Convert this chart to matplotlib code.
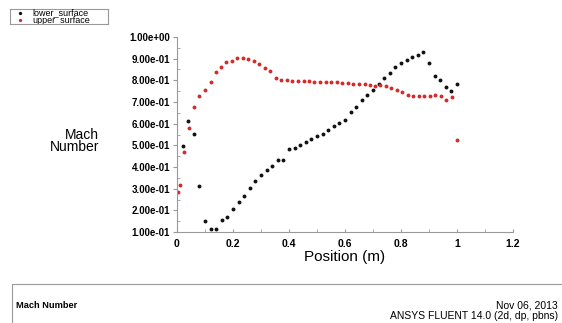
import matplotlib
matplotlib.use("Agg")
from matplotlib import pyplot as plt
from matplotlib.patches import Rectangle
from matplotlib.ticker import MultipleLocator, FixedLocator

plt.rcParams['font.family'] = ['Liberation Sans', 'DejaVu Sans']

# Lower surface Mach number along the chord
lower_x = [0.02, 0.04, 0.06, 0.08, 0.10, 0.12, 0.14, 0.16, 0.18, 0.20,
           0.22, 0.24, 0.26, 0.28, 0.30, 0.32, 0.34, 0.36, 0.38, 0.40,
           0.42, 0.44, 0.46, 0.48, 0.50, 0.52, 0.54, 0.56, 0.58, 0.60,
           0.62, 0.64, 0.66, 0.68, 0.70, 0.72, 0.74, 0.76, 0.78, 0.80,
           0.82, 0.84, 0.86, 0.88, 0.90, 0.92, 0.94, 0.96, 0.98, 1.00]
lower_y = [0.495, 0.611, 0.552, 0.311, 0.152, 0.115, 0.115, 0.154, 0.168, 0.206,
           0.240, 0.265, 0.303, 0.334, 0.365, 0.385, 0.406, 0.431, 0.434, 0.485,
           0.489, 0.502, 0.515, 0.531, 0.542, 0.552, 0.569, 0.587, 0.603, 0.618,
           0.654, 0.676, 0.707, 0.731, 0.757, 0.785, 0.809, 0.832, 0.862, 0.880,
           0.892, 0.908, 0.918, 0.929, 0.880, 0.818, 0.803, 0.768, 0.752, 0.785]

# Upper surface
upper_x = [0.005, 0.01, 0.024, 0.042, 0.06, 0.08, 0.10, 0.12, 0.138, 0.157,
           0.176, 0.196, 0.215, 0.235, 0.254, 0.274, 0.293, 0.313, 0.332, 0.352,
           0.372, 0.392, 0.412, 0.432, 0.452, 0.471, 0.491, 0.511, 0.531, 0.551,
           0.571, 0.59, 0.61, 0.63, 0.65, 0.67, 0.688, 0.706, 0.725, 0.745,
           0.765, 0.785, 0.805, 0.824, 0.844, 0.864, 0.883, 0.903, 0.923, 0.943,
           0.961, 0.981, 1.0]
upper_y = [0.283, 0.318, 0.468, 0.580, 0.675, 0.729, 0.754, 0.792, 0.837, 0.862,
           0.885, 0.891, 0.902, 0.905, 0.900, 0.888, 0.874, 0.857, 0.842, 0.811,
           0.803, 0.800, 0.798, 0.798, 0.797, 0.795, 0.792, 0.792, 0.792, 0.792,
           0.791, 0.788, 0.788, 0.785, 0.785, 0.782, 0.780, 0.775, 0.777, 0.772,
           0.765, 0.757, 0.746, 0.734, 0.726, 0.726, 0.726, 0.729, 0.731, 0.726,
           0.711, 0.722, 0.526]

y_ticks = [0.1, 0.2, 0.3, 0.4, 0.5, 0.6, 0.7, 0.8, 0.9, 1.0]
y_labels = ['1.00e-01', '2.00e-01', '3.00e-01', '4.00e-01', '5.00e-01',
            '6.00e-01', '7.00e-01', '8.00e-01', '9.00e-01', '1.00e+00']
x_ticks = [0, 0.2, 0.4, 0.6, 0.8, 1, 1.2]
x_labels = ['0', '0.2', '0.4', '0.6', '0.8', '1', '1.2']

black = '#111111'
red = '#d42a2a'
grey = '#999999'

fig = plt.figure(figsize=(5.62, 3.23), dpi=100)
ax = fig.add_axes([177 / 562, 91 / 323, 336 / 562, 195 / 323])

ax.plot(lower_x, lower_y, 'o', color=black, markersize=2.8, mew=0, linestyle='none')
ax.plot(upper_x, upper_y, 'o', color=red, markersize=2.8, mew=0, linestyle='none')

ax.set_xlim(0, 1.2)
ax.set_ylim(0.1, 1.0)
for s in ['top', 'right']:
    ax.spines[s].set_visible(False)
for s in ['left', 'bottom']:
    ax.spines[s].set_color(grey)
    ax.spines[s].set_linewidth(0.8)

ax.yaxis.set_major_locator(FixedLocator(y_ticks))
ax.set_yticklabels(y_labels)
ax.yaxis.set_minor_locator(MultipleLocator(0.05))
ax.xaxis.set_major_locator(FixedLocator(x_ticks))
ax.set_xticklabels(x_labels)
ax.xaxis.set_minor_locator(MultipleLocator(0.1))

ax.tick_params(axis='y', which='major', direction='out', length=3, color=grey,
               labelsize=7, pad=2)
ax.tick_params(axis='y', which='minor', direction='in', length=2, color=grey)
ax.tick_params(axis='x', which='both', direction='in', length=2, color=grey,
               labelsize=7.5, pad=5)
for lab in ax.get_xticklabels() + ax.get_yticklabels():
    lab.set_fontweight('bold')

ax.set_xlabel('Position (m)', fontsize=11, labelpad=1)
fig.text(99 / 562, 1 - 141 / 323, 'Mach\nNumber', fontsize=10, ha='right',
         va='center', multialignment='right', linespacing=0.85)

# Legend box with clipped names
lg = fig.add_axes([10 / 562, 1 - 24 / 323, 98 / 562, 15 / 323])
lg.set_xlim(0, 98)
lg.set_ylim(15, 0)
lg.set_xticks([])
lg.set_yticks([])
for s in lg.spines.values():
    s.set_color(grey)
    s.set_linewidth(0.8)
lg.plot([10], [4], 'o', color=black, markersize=2.4, mew=0)
lg.plot([10], [11], 'o', color=red, markersize=2.4, mew=0)
lg.text(22, 3.5, 'lower_surface', fontsize=6.5, va='center', clip_on=True)
lg.text(22, 11.5, 'upper_surface', fontsize=6.5, va='center', clip_on=True)

# Footer box
fig.patches.append(Rectangle((12 / 562, -0.05), 0.99, 0.05 + 39 / 323,
                             transform=fig.transFigure, fill=False,
                             edgecolor=grey, linewidth=0.8))
fig.text(16 / 562, 1 - 306 / 323, 'Mach Number', fontsize=6.7,
         fontweight='bold', va='center')
fig.text(558 / 562, 1 - 305 / 323, 'Nov 06, 2013', fontsize=7.5,
         ha='right', va='center')
fig.text(558 / 562, 1 - 316 / 323, 'ANSYS FLUENT 14.0 (2d, dp, pbns)',
         fontsize=7.5, ha='right', va='center')

plt.savefig('out.png', dpi=100)
